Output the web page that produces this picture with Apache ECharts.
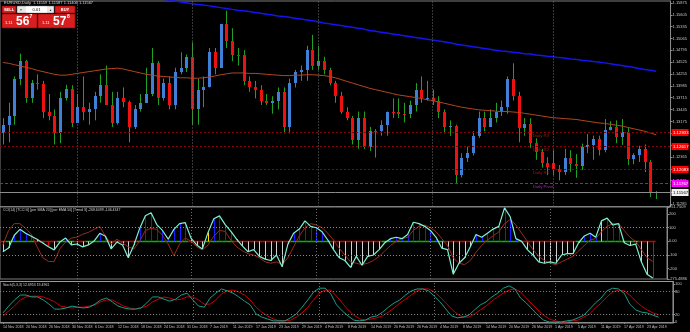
<!DOCTYPE html>
<html><head><meta charset="utf-8">
<script src="https://cdn.jsdelivr.net/npm/echarts@6/dist/echarts.min.js"></script>
<style>html,body{margin:0;padding:0;background:#000;overflow:hidden}#c{width:690px;height:332px}</style>
</head><body><div id="c"></div>
<script>
// ---------------- DATA ----------------
const monthDays = [
  ['Nov 2018', [14,15,16,19,20,21,22,23,26,27,28,29,30]],
  ['Dec 2018', [3,4,5,6,7,10,11,12,13,14,17,18,19,20,21,24,26,27,28,31]],
  ['Jan 2019', [2,3,4,7,8,9,10,11,14,15,16,17,18,21,22,23,24,25,28,29,30,31]],
  ['Feb 2019', [1,4,5,6,7,8,11,12,13,14,15,18,19,20,21,22,25,26,27,28]],
  ['Mar 2019', [1,4,5,6,7,8,11,12,13,14,15,18,19,20,21,22,25,26,27,28,29]],
  ['Apr 2019', [1,2,3,4,5,8,9,10,11,12,15,16,17,18,19,22,23,24,25]]
];
const open = [1.1290,1.1310,1.1330,1.1415,1.1455,1.1370,1.1405,1.1402,1.1338,1.1330,
1.1290,1.1370,1.1392,1.1315,1.1350,1.1340,1.1345,1.1375,1.1400,1.1355,
1.1315,1.1370,1.1362,1.1305,1.1345,1.1360,1.1380,1.1450,1.1370,1.1405,
1.1355,1.1430,1.1440,1.1465,1.1345,1.1390,1.1395,1.1475,1.1440,1.1540,
1.1500,1.1470,1.1470,1.1410,1.1395,1.1390,1.1365,1.1360,1.1365,1.1385,
1.1305,1.1405,1.1430,1.1435,1.1480,1.1445,1.1455,1.1435,1.1405,1.1375,
1.1340,1.1325,1.1275,1.1325,1.1260,1.1295,1.1295,1.1310,1.1340,1.1340,
1.1335,1.1335,1.1355,1.1390,1.1370,1.1372,1.1365,1.1340,1.1305,1.1308,
1.1195,1.1235,1.1245,1.1285,1.1325,1.1305,1.1325,1.1340,1.1350,1.1415,
1.1375,1.1302,1.1312,1.1268,1.1248,1.1223,1.1222,1.1210,1.1203,1.1233,
1.1220,1.1216,1.1260,1.1263,1.1277,1.1253,1.1298,1.1304,1.1283,1.1293,
1.1232,1.1240,1.1255,1.1226,1.11559];
const high = [1.1325,1.1360,1.1420,1.1472,1.1458,1.1412,1.1425,1.1410,1.1380,1.1345,
1.1385,1.1401,1.1400,1.1380,1.1420,1.1360,1.1385,1.1425,1.1445,1.1385,
1.1385,1.1395,1.1365,1.1355,1.1380,1.1440,1.1485,1.1455,1.1415,1.1420,
1.1440,1.1475,1.1470,1.1498,1.1415,1.1420,1.1485,1.1485,1.1540,1.1570,
1.1530,1.1485,1.1480,1.1420,1.1410,1.1400,1.1380,1.1375,1.1395,1.1395,
1.1415,1.1435,1.1445,1.1490,1.1515,1.1490,1.1465,1.1440,1.1410,1.1385,
1.1350,1.1330,1.1340,1.1340,1.1305,1.1300,1.1320,1.1340,1.1370,1.1370,
1.1360,1.1365,1.1405,1.1420,1.1410,1.1390,1.1375,1.1345,1.1320,1.1310,
1.1245,1.1260,1.1295,1.1340,1.1340,1.1345,1.1360,1.1365,1.1420,1.1450,
1.1385,1.1325,1.1325,1.1279,1.1255,1.1236,1.1252,1.1218,1.1255,1.1252,
1.1243,1.1267,1.1289,1.1285,1.1285,1.1323,1.1318,1.1320,1.1323,1.1305,
1.1245,1.1262,1.1265,1.1230,1.11587];
const low = [1.1265,1.1270,1.1310,1.1400,1.1360,1.1360,1.1390,1.1325,1.1320,1.1265,
1.1268,1.1365,1.1305,1.1315,1.1320,1.1310,1.1320,1.1360,1.1355,1.1305,
1.1310,1.1350,1.1270,1.1300,1.1340,1.1360,1.1375,1.1355,1.1365,1.1345,
1.1345,1.1425,1.1430,1.1310,1.1310,1.1350,1.1395,1.1425,1.1440,1.1485,
1.1455,1.1445,1.1400,1.1385,1.1370,1.1355,1.1355,1.1335,1.1345,1.1290,
1.1290,1.1395,1.1410,1.1410,1.1435,1.1435,1.1425,1.1400,1.1360,1.1335,
1.1320,1.1265,1.1255,1.1255,1.1250,1.1235,1.1285,1.1285,1.1325,1.1325,
1.1315,1.1325,1.1340,1.1360,1.1365,1.1355,1.1325,1.1290,1.1285,1.1175,
1.1190,1.1225,1.1240,1.1280,1.1295,1.1305,1.1315,1.1330,1.1335,1.1365,
1.1270,1.1285,1.1257,1.1230,1.1212,1.1195,1.1195,1.1183,1.1195,1.1202,
1.1189,1.1207,1.1245,1.1230,1.1240,1.1247,1.1297,1.1268,1.1264,1.1218,
1.1220,1.1225,1.1202,1.1145,1.11406];
const close = [1.1310,1.1330,1.1415,1.1455,1.1370,1.1405,1.1402,1.1338,1.1330,1.1290,
1.1370,1.1392,1.1315,1.1350,1.1340,1.1345,1.1375,1.1400,1.1355,1.1315,
1.1370,1.1362,1.1305,1.1345,1.1360,1.1380,1.1450,1.1370,1.1405,1.1355,
1.1430,1.1440,1.1465,1.1345,1.1390,1.1395,1.1475,1.1440,1.1540,1.1500,
1.1470,1.1470,1.1410,1.1395,1.1390,1.1365,1.1360,1.1365,1.1385,1.1305,
1.1405,1.1430,1.1435,1.1480,1.1445,1.1455,1.1435,1.1405,1.1375,1.1340,
1.1325,1.1275,1.1325,1.1260,1.1295,1.1295,1.1310,1.1340,1.1340,1.1335,
1.1335,1.1355,1.1390,1.1370,1.1372,1.1365,1.1340,1.1305,1.1308,1.1195,
1.1235,1.1245,1.1285,1.1325,1.1305,1.1325,1.1340,1.1350,1.1415,1.1375,
1.1302,1.1312,1.1268,1.1248,1.1223,1.1214,1.1210,1.1203,1.1233,1.1220,
1.1216,1.1260,1.1263,1.1277,1.1253,1.1298,1.1304,1.1283,1.1293,1.1232,
1.1240,1.1255,1.1226,1.1155,1.11567];
const maSlow = [null,null,null,null,null,null,null,null,null,null,
null,null,null,null,null,null,null,null,null,null,
null,null,null,null,null,1.1601,1.1599,1.1597,1.1596,1.1594,
1.1592,1.1590,1.1588,1.1586,1.1584,1.1583,1.1581,1.1579,1.1577,1.1575,
1.1573,1.1571,1.1570,1.1568,1.1566,1.1564,1.1562,1.1560,1.1558,1.1557,
1.1555,1.1553,1.1551,1.1549,1.1547,1.1545,1.1542,1.1540,1.1538,1.1536,
1.1534,1.1532,1.1530,1.1528,1.1525,1.1523,1.1521,1.1519,1.1517,1.1515,
1.1513,1.1511,1.1509,1.1507,1.1505,1.1503,1.1501,1.1499,1.1497,1.1494,
1.1492,1.1490,1.1488,1.1486,1.1484,1.1482,1.1480,1.1478,1.1477,1.1475,
1.1474,1.1472,1.1471,1.1469,1.1468,1.1466,1.1465,1.1463,1.1462,1.1460,
1.1459,1.1457,1.1456,1.1454,1.1453,1.1451,1.1449,1.1447,1.1445,1.1443,
1.1441,1.1438,1.1436,1.1434,1.1432];
const maMid = [1.1452,1.1450,1.1447,1.1444,1.1441,1.1438,1.1434,1.1431,1.1428,1.1425,
1.1423,1.1423,1.1425,1.1427,1.1429,1.1431,1.1433,1.1435,1.1437,1.1438,
1.1439,1.1437,1.1434,1.1431,1.1428,1.1425,1.1423,1.1421,1.1420,1.1419,
1.1418,1.1417,1.1417,1.1416,1.1416,1.1417,1.1419,1.1421,1.1424,1.1426,
1.1428,1.1428,1.1428,1.1427,1.1427,1.1426,1.1425,1.1424,1.1423,1.1422,
1.1422,1.1423,1.1423,1.1424,1.1424,1.1423,1.1422,1.1420,1.1417,1.1413,
1.1409,1.1405,1.1401,1.1397,1.1393,1.1390,1.1387,1.1384,1.1381,1.1378,
1.1376,1.1374,1.1372,1.1370,1.1367,1.1365,1.1362,1.1359,1.1356,1.1353,
1.1350,1.1348,1.1346,1.1344,1.1343,1.1342,1.1341,1.1340,1.1340,1.1339,
1.1338,1.1336,1.1334,1.1332,1.1330,1.1328,1.1326,1.1325,1.1324,1.1323,
1.1322,1.1320,1.1318,1.1316,1.1314,1.1313,1.1311,1.1309,1.1307,1.1304,
1.1301,1.1298,1.1295,1.1291,1.1287];
// kind: 0 = resistance, 1 = pivot, 2 = bid
const levelNames  = ['Daily R3', 'Daily R2', 'Daily R1', 'Daily Pivot', ''];
const levelValues = [1.129333, 1.126167, 1.120833, 1.117667, 1.11567];
const levelKinds  = [0, 0, 0, 1, 2];
const priceTicks = [1.15875,1.15605,1.15335,1.15065,1.14795,1.14525,1.14255,1.13985,1.13715,
  1.13445,1.13175,1.12905,1.12635,1.12365,1.12095,1.11825,1.11555,1.11285];
const cciFast = [-76,-48,45,88,59,38,16,-12,-40,-62,-5,24,-26,-19,-40,-26,2,59,38,-55,
-5,-26,-119,-26,95,187,209,123,80,16,88,130,137,24,-26,-55,66,166,187,123,
73,16,-33,-76,-60,-110,-130,-140,-100,-185,-20,60,90,150,
110,100,70,10,-60,-120,-140,-190,-110,-175,-110,-100,-60,-10,20,30,20,50,140,130,
110,80,30,-50,-60,-240,-160,-120,-40,50,30,60,90,110,245,180,20,0,-60,-100,
-150,-160,-150,-160,-100,-90,-90,-10,40,60,30,150,170,120,130,-10,-30,-20,-150,-240,-268.6];
const cciSlow = [-26,80,130,130,95,52,-40,-119,-147,-147,-55,-5,24,31,52,66,88,109,38,-19,
16,-12,-40,-55,2,80,95,88,45,-19,-105,-19,24,2,-40,-62,-26,38,80,73,
9,-40,-69,-90,-100,-120,-150,-160,-150,-170,-120,-40,40,100,
130,120,100,60,10,-50,-100,-150,-160,-170,-160,-140,-110,-70,-30,0,20,30,80,110,
120,100,70,20,-30,-120,-160,-170,-140,-80,-30,10,40,70,130,160,120,60,0,-60,
-110,-140,-160,-170,-150,-130,-110,-70,-30,10,20,70,110,130,130,80,30,0,-60,-120,-146.4];
const cciTrend = '-+++++----+++--++++-----+++++++++---+++++---' +
                 '-------+++++++---------+++++++++++-----++++++++----------+++++++++++---';
const cciHistOverride = {113: 'y', 114: 'r', 36: 'y', 105: 'y', 7: 'r', 8: 'r'};
const cciTicks = [251.7509, 200, 100, 0, -100, -200, -275.4886];
const stochK = [24,42,58,71,71,66,66,58,47,34, 34,37,42,39,37,39,47,58,63,53,
42,37,34,34,37,50,66,66,60,55, 60,71,76,58,42,39,63,76,87,82,
76,66,55,45,21,13,8,3,3,3, 11,21,39,58,79,89,89,74,45,29,
16,5,3,5,13,16,26,39,50,58, 71,82,87,87,82,68,53,34,16,11,
13,18,32,45,53,66,76,89,95,87, 63,50,34,18,5,0,0,0,3,5,
11,18,34,50,63,82,89,87,76,47, 32,26,24,18,12.7];
const stochD = [16,29,42,58,66,68,68,66,60,53, 42,39,37,39,39,42,45,53,58,58,
50,42,37,34,37,42,53,60,66,63, 58,60,66,66,58,47,47,58,74,82,
84,79,71,58,39,26,16,8,3,3, 5,13,24,39,58,76,84,84,68,50,
32,18,8,5,8,11,16,26,37,50, 60,71,82,87,87,79,66,50,34,21,
13,13,21,32,42,55,66,76,84,87, 79,63,47,32,18,8,3,0,0,3,
5,13,21,37,50,66,79,84,82,71, 55,42,32,24,19.5];
const stochTicks = [100, 80, 20, 0];
const separators = ['3 Dec 2018','2 Jan 2019','1 Feb 2019','1 Mar 2019','1 Apr 2019'];
const headerText = 'EURUSD,Daily  1.11559 1.11587 1.11406 1.11567';
const cciTitle = 'CCI(14) [TCCI 6] [per SMA 20] [per EMA 50] [Trend 3] -268.6099 -146.4347';
const stochTitle = 'Stoch(5,3,3) 12.6953 19.4961';

// ---------------- BUILD ----------------
const categories = [];
monthDays.forEach(([m, ds]) => ds.forEach(d => categories.push(d + ' ' + m)));
const N = categories.length;
const axisCats = categories.concat(['', '']);
const FONT = '"Liberation Sans", "DejaVu Sans", sans-serif';
const TXT = '#c4c4c4';
const candleData = open.map((o, i) => [i, o, close[i], low[i], high[i]]);
const levelLabelIdx = categories.indexOf('27 Mar 2019');

const HIST_COLORS = {b: '#1a1aff', g: '#d0d0d0', y: '#ffd400', r: '#e00000'};
const histColors = cciFast.map((v, i) => {
  const t = cciTrend[i] === '+' ? 1 : -1;
  let code = v >= 0 ? (t > 0 ? 'b' : 'y') : 'g';
  if (cciHistOverride[i]) code = cciHistOverride[i];
  return HIST_COLORS[code];
});
const trendUp = cciFast.map((v, i) => cciTrend[i] === '+');

function renderCandle(params, api) {
  const i = api.value(0), o = api.value(1), c = api.value(2), l = api.value(3), h = api.value(4);
  const pO = api.coord([i, o]), pC = api.coord([i, c]), pL = api.coord([i, l]), pH = api.coord([i, h]);
  const x = Math.round(pO[0]) + 0.5;
  const top = Math.round(Math.min(pO[1], pC[1]));
  const bot = Math.round(Math.max(pO[1], pC[1]));
  const up = c > o;
  return {type: 'group', children: [
    {type: 'line', shape: {x1: x, y1: pH[1], x2: x, y2: pL[1]}, style: {stroke: '#22a022', lineWidth: 1}},
    {type: 'rect', shape: {x: x - 1.5, y: top, width: 3, height: Math.max(1, bot - top)},
     style: {fill: up ? '#3f7fd6' : '#ee1111'}}
  ]};
}
function renderLevel(params, api) {
  const k = params.dataIndex;
  const v = api.value(1), kind = levelKinds[k];
  const cs = params.coordSys;
  const y = Math.round(api.coord([0, v])[1]) + 0.5;
  const lineCol = ['#8c0000', '#c000c0', '#8c8c8c'][kind];
  const dash = [[2, 2], [3, 2], null][kind];
  const boxCol = ['#ff0000', '#ff00ff', '#f0f0f0'][kind];
  const txtCol = ['#ffffff', '#ffffff', '#000000'][kind];
  const right = cs.x + cs.width;
  const children = [
    {type: 'line', shape: {x1: cs.x, y1: y, x2: right, y2: y}, style: {stroke: lineCol, lineWidth: 1, lineDash: dash}},
    {type: 'rect', shape: {x: right + 1, y: y - 3.5, width: 17, height: 7}, style: {fill: boxCol}},
    {type: 'text', x: right + 2.5, y: y + 0.3, style: {text: v.toFixed(5), fill: txtCol, fontSize: 4.3, fontFamily: FONT, verticalAlign: 'middle'}}
  ];
  if (levelNames[k]) {
    const px = api.coord([levelLabelIdx, v])[0];
    children.push({type: 'text', x: px - 3, y: y + 3, style: {text: levelNames[k], fill: kind === 1 ? '#b020c0' : '#a01818',
      fontSize: 4.3, fontFamily: FONT, verticalAlign: 'middle'}});
  }
  return {type: 'group', children};
}
function renderZero(params, api) {
  const i = api.value(0);
  const c = api.coord([i, 0]);
  const w = api.size([1, 0])[0];
  const y = Math.round(c[1]) + 0.5;
  return {type: 'line', shape: {x1: c[0] - w / 2, y1: y, x2: c[0] + w / 2, y2: y},
    style: {stroke: trendUp[params.dataIndex] ? '#00c000' : '#d00000', lineWidth: 1.5}};
}
function renderHist(params, api) {
  const i = api.value(0), v = api.value(1);
  const p0 = api.coord([i, 0]), p1 = api.coord([i, v]);
  const x = Math.round(p0[0]) + 0.5;
  return {type: 'line', shape: {x1: x, y1: p0[1], x2: x, y2: p1[1]},
    style: {stroke: histColors[params.dataIndex], lineWidth: 1}};
}
const histData = cciFast.map((v, i) => [i, v]);
const zeroData = cciFast.map((v, i) => [i, 0]);
const levelData = levelValues.map((v, k) => [0, v]);

function sepAndLevels(vals) {
  return {silent: true, symbol: ['none','none'], animation: false,
    lineStyle: {color: '#8a8a8a', type: [1, 2], width: 1}, label: {show: false},
    data: vals.map(v => ({yAxis: v})).concat(separators.map(d => ({xAxis: d, lineStyle: {color: '#707070', type: [1, 2]}})))};
}

const gridL = -0.9, gridW = 673.9;
const xBase = (idx, showLabels) => ({
  type: 'category', gridIndex: idx, data: axisCats, boundaryGap: true,
  axisLine: {show: showLabels, lineStyle: {color: '#8a8a8a'}},
  axisTick: {show: showLabels, alignWithLabel: true, length: 2, interval: (i) => i % 4 === 0 && i < N, lineStyle: {color: '#8a8a8a'}},
  axisLabel: {show: showLabels, interval: (i) => i % 4 === 0 && i < N, align: 'left', margin: 2,
    fontSize: 3.6, color: TXT, fontFamily: FONT},
  splitLine: {show: false}
});
const yBase = (idx, min, max, ticks, fmt) => ({
  type: 'value', gridIndex: idx, min, max, position: 'right',
  axisLine: {show: true, lineStyle: {color: '#8a8a8a'}},
  axisTick: {show: true, length: 2, customValues: ticks, lineStyle: {color: '#8a8a8a'}},
  axisLabel: {show: true, customValues: ticks, formatter: fmt, fontSize: 4, color: TXT, fontFamily: FONT, margin: 2},
  splitLine: {show: false}
});

const option = {
  backgroundColor: '#000000',
  animation: false,
  grid: [
    {left: gridL, top: 1, width: gridW, height: 205.5, show: true, borderColor: '#7f7f7f', borderWidth: 1, backgroundColor: 'transparent'},
    {left: gridL, top: 207, width: gridW, height: 72, show: true, borderColor: '#7f7f7f', borderWidth: 1, backgroundColor: 'transparent'},
    {left: gridL, top: 281.5, width: gridW, height: 41.5, show: true, borderColor: '#9a9a9a', borderWidth: 1, backgroundColor: 'transparent'}
  ],
  xAxis: [xBase(0, false), xBase(1, false), xBase(2, true)],
  yAxis: [
    yBase(0, 1.112352, 1.15921, priceTicks, v => v.toFixed(5)),
    yBase(1, -275.4886, 251.7509, cciTicks, v => (v === 251.7509 || v === -275.4886) ? v.toFixed(4) : (v === 0 ? '0.00' : String(v))),
    yBase(2, -2.6, 106.6, stochTicks, v => String(v))
  ],
  series: [
    {type: 'custom', name: 'EURUSD', xAxisIndex: 0, yAxisIndex: 0, renderItem: renderCandle,
     data: candleData, encode: {x: 0, y: [1, 2, 3, 4]}, z: 3,
     markLine: {silent: true, symbol: ['none','none'], animation: false, label: {show: false},
       lineStyle: {color: '#707070', type: [1, 2], width: 1}, data: separators.map(d => ({xAxis: d}))}},
    {type: 'custom', name: 'levels', xAxisIndex: 0, yAxisIndex: 0, renderItem: renderLevel,
     data: levelData, encode: {x: 0, y: 1}, z: 6, clip: false},
    {type: 'line', name: 'MA slow', xAxisIndex: 0, yAxisIndex: 0, data: maSlow, showSymbol: false,
     lineStyle: {color: '#1414f0', width: 1.5}, z: 4, clip: true},
    {type: 'line', name: 'MA mid', xAxisIndex: 0, yAxisIndex: 0, data: maMid, showSymbol: false,
     lineStyle: {color: '#b4461e', width: 1}, z: 4, clip: true},
    {type: 'custom', name: 'zero', xAxisIndex: 1, yAxisIndex: 1, renderItem: renderZero, data: zeroData, encode: {x: 0, y: 1}, z: 2},
    {type: 'custom', name: 'hist', xAxisIndex: 1, yAxisIndex: 1, renderItem: renderHist, data: histData, encode: {x: 0, y: 1}, z: 3},
    {type: 'line', name: 'TCCI', xAxisIndex: 1, yAxisIndex: 1, data: cciSlow, showSymbol: false,
     lineStyle: {color: '#9c2a1c', width: 1}, z: 4, markLine: sepAndLevels([100, -100])},
    {type: 'line', name: 'CCI', xAxisIndex: 1, yAxisIndex: 1, data: cciFast, showSymbol: false,
     lineStyle: {color: '#7ff0d0', width: 1.2}, z: 5},
    {type: 'line', name: 'Stoch signal', xAxisIndex: 2, yAxisIndex: 2, data: stochD, showSymbol: false,
     lineStyle: {color: '#c80000', width: 1}, z: 4, markLine: sepAndLevels([80, 20])},
    {type: 'line', name: 'Stoch main', xAxisIndex: 2, yAxisIndex: 2, data: stochK, showSymbol: false,
     lineStyle: {color: '#1f9a88', width: 1}, z: 5}
  ],
  graphic: [
    {type: 'text', x: 4, y: 3, z: 10, style: {text: headerText, fill: '#d8d8d8', fontSize: 4, fontFamily: FONT, verticalAlign: 'middle'}},
    {type: 'rect', z: 10, shape: {x: 2, y: 6, width: 14, height: 7}, style: {fill: '#d81e1e', stroke: '#7a0000', lineWidth: 0.5}},
    {type: 'text', z: 11, x: 9, y: 9.7, style: {text: 'SELL', fill: '#ffffff', fontSize: 4, fontWeight: 'bold', fontFamily: FONT, align: 'center', verticalAlign: 'middle'}},
    {type: 'rect', z: 10, shape: {x: 17, y: 6, width: 37, height: 7}, style: {fill: '#e8e8e8', stroke: '#666', lineWidth: 0.5}},
    {type: 'rect', z: 10, shape: {x: 26, y: 6.5, width: 21, height: 6}, style: {fill: '#ffffff'}},
    {type: 'text', z: 11, x: 21, y: 9.7, style: {text: '▼', fill: '#333', fontSize: 3, fontFamily: FONT, align: 'center', verticalAlign: 'middle'}},
    {type: 'text', z: 11, x: 50.5, y: 9.7, style: {text: '▲', fill: '#333', fontSize: 3, fontFamily: FONT, align: 'center', verticalAlign: 'middle'}},
    {type: 'text', z: 11, x: 36.5, y: 9.7, style: {text: '0.01', fill: '#000', fontSize: 4, fontFamily: FONT, align: 'center', verticalAlign: 'middle'}},
    {type: 'rect', z: 10, shape: {x: 55, y: 6, width: 20, height: 7}, style: {fill: '#d81e1e', stroke: '#7a0000', lineWidth: 0.5}},
    {type: 'text', z: 11, x: 65, y: 9.7, style: {text: 'BUY', fill: '#ffffff', fontSize: 4, fontWeight: 'bold', fontFamily: FONT, align: 'center', verticalAlign: 'middle'}},
    {type: 'rect', z: 10, shape: {x: 2, y: 14, width: 35, height: 14}, style: {fill: '#d81e1e', stroke: '#7a0000', lineWidth: 0.5}},
    {type: 'rect', z: 10, shape: {x: 38, y: 14, width: 37, height: 14}, style: {fill: '#d81e1e', stroke: '#7a0000', lineWidth: 0.5}},
    {type: 'text', z: 11, x: 5, y: 22.5, style: {text: '1.11', fill: '#fff', fontSize: 4, fontFamily: FONT, verticalAlign: 'middle'}},
    {type: 'text', z: 11, x: 16, y: 21.5, style: {text: '56', fill: '#fff', fontSize: 12, fontWeight: 'bold', fontFamily: FONT, verticalAlign: 'middle'}},
    {type: 'text', z: 11, x: 29.5, y: 17, style: {text: '7', fill: '#fff', fontSize: 5, fontWeight: 'bold', fontFamily: FONT, verticalAlign: 'middle'}},
    {type: 'text', z: 11, x: 42, y: 22.5, style: {text: '1.11', fill: '#fff', fontSize: 4, fontFamily: FONT, verticalAlign: 'middle'}},
    {type: 'text', z: 11, x: 53, y: 21.5, style: {text: '57', fill: '#fff', fontSize: 12, fontWeight: 'bold', fontFamily: FONT, verticalAlign: 'middle'}},
    {type: 'text', z: 11, x: 67, y: 17, style: {text: '8', fill: '#fff', fontSize: 5, fontWeight: 'bold', fontFamily: FONT, verticalAlign: 'middle'}},
    {type: 'text', z: 10, x: 3, y: 210.5, style: {text: cciTitle, fill: '#d0d0d0', fontSize: 3.5, fontFamily: FONT, verticalAlign: 'middle'}},
    {type: 'text', z: 10, x: 3, y: 285, style: {text: stochTitle, fill: '#d0d0d0', fontSize: 3.5, fontFamily: FONT, verticalAlign: 'middle'}}
  ]
};
const chart = echarts.init(document.getElementById('c'), null, {renderer: 'canvas', width: 690, height: 332});
chart.setOption(option);
</script>
</body></html>
